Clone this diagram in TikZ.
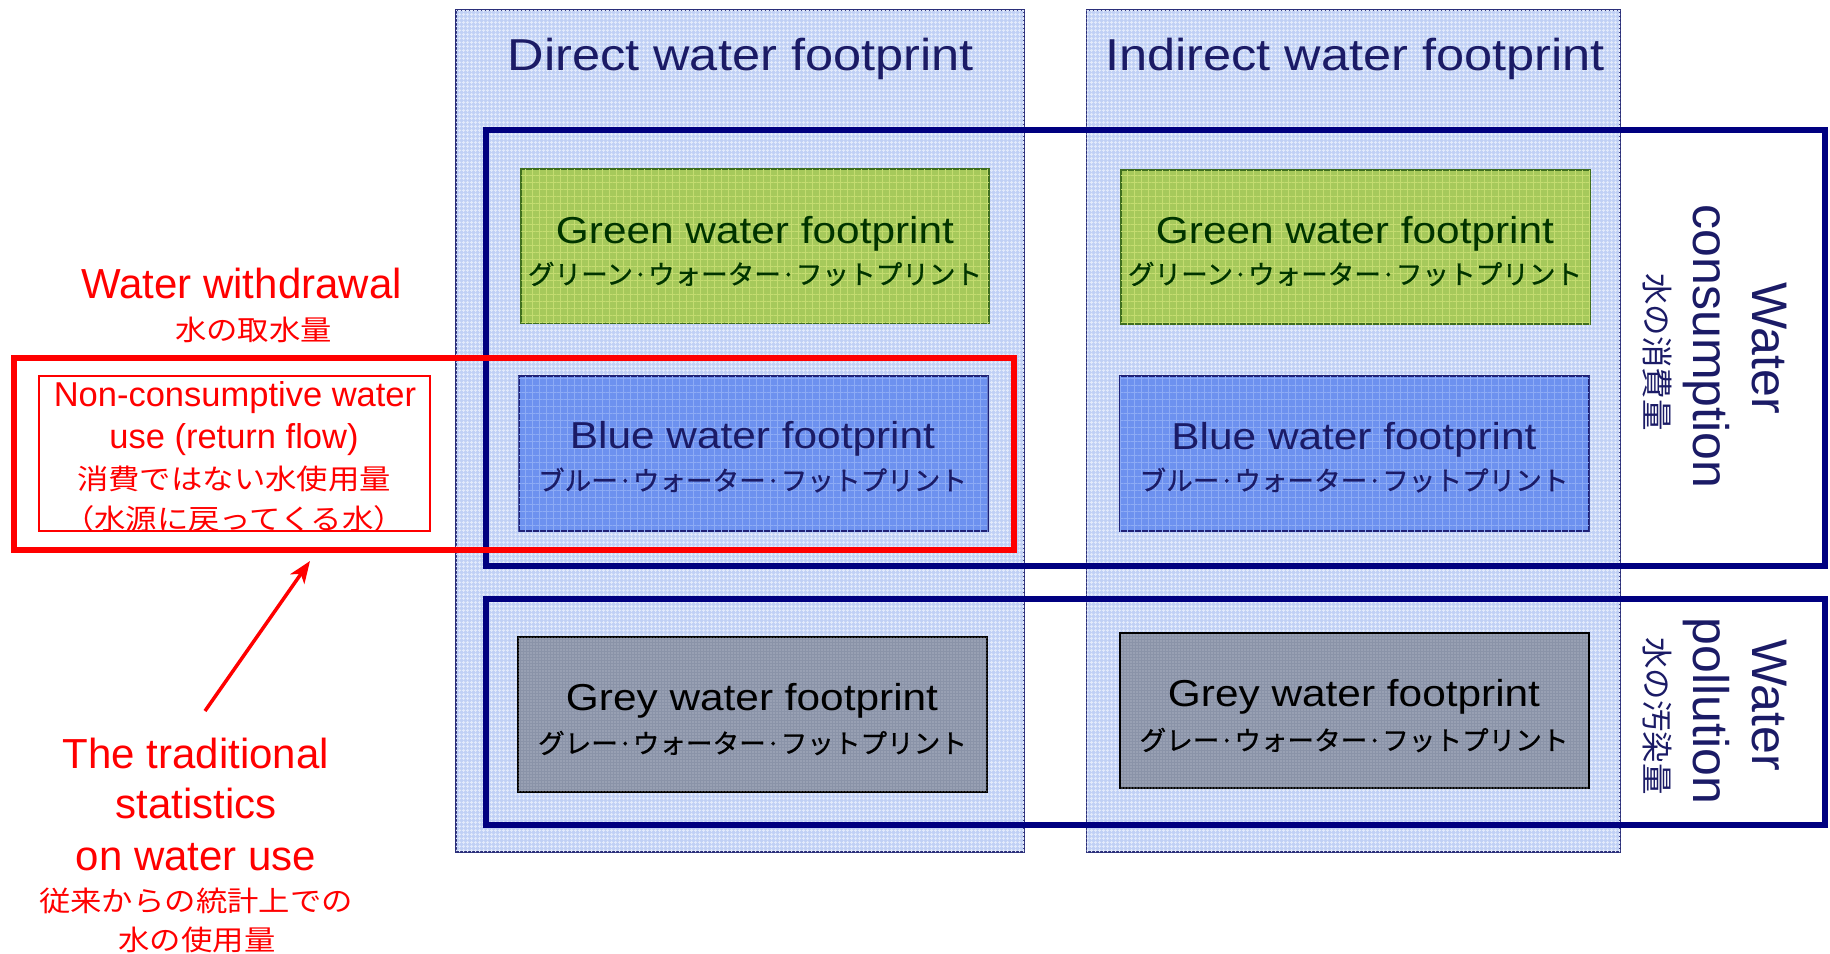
\documentclass[tikz,border=0pt]{standalone}
\usepackage{fontspec}
\setmainfont{Liberation Sans}
\newfontfamily\enw{Liberation Sans}[FakeStretch=1.13]
\newfontfamily\jp{Noto Sans CJK JP}
\newfontfamily\jpb{Noto Sans CJK JP}[FakeBold=0.8]
\newfontfamily\jpw{Noto Sans CJK JP}[FakeStretch=1.12]
\usetikzlibrary{arrows.meta,patterns.meta}

\definecolor{colbg}{HTML}{C0D0F5}
\definecolor{colhatch}{HTML}{E2EAFB}
\definecolor{colline}{HTML}{2B2F7A}
\definecolor{navy}{HTML}{000080}
\definecolor{navytext}{HTML}{1B1B66}
\definecolor{grfill}{HTML}{A6C95B}
\definecolor{grhatch}{HTML}{C4DC70}
\definecolor{grline}{HTML}{3F6F1F}
\definecolor{grtext}{HTML}{003300}
\definecolor{blfill}{HTML}{6D91EF}
\definecolor{blhatch}{HTML}{8DABF5}
\definecolor{blline}{HTML}{1F2277}
\definecolor{gyfill}{HTML}{8A93A8}
\definecolor{gydots}{HTML}{C9CED8}
\definecolor{wred}{HTML}{FF0000}

\begin{document}
\begin{tikzpicture}[x=1pt,y=-1pt,
  every node/.style={inner sep=0pt,outer sep=0pt},
  column/.style={rectangle,draw=colline,line width=1.6pt,fill=colbg,
    postaction={pattern={Hatch[distance=4pt,line width=1.1pt]},pattern color=colhatch}},
  framebox/.style={rectangle,draw=navy,line width=6pt},
  greenfp/.style={rectangle,draw=grline,line width=2pt,fill=grfill,
    postaction={pattern={Hatch[distance=7pt,line width=1pt]},pattern color=grhatch}},
  bluefp/.style={rectangle,draw=blline,line width=2pt,fill=blfill,
    postaction={pattern={Hatch[distance=7pt,line width=1pt]},pattern color=blhatch}},
  greyfp/.style={rectangle,draw=black,line width=2pt,fill=gyfill,
    postaction={pattern={Dots[distance=3pt,radius=0.7pt]},pattern color=gydots}},
  redframe/.style={rectangle,draw=wred,line width=6pt},
  redthin/.style={rectangle,draw=wred,line width=1.8pt},
  coltitle/.style={anchor=base,text=navytext,font=\enw\fontsize{44.7}{48}\selectfont},
  fpen/.style={anchor=base,font=\enw\fontsize{37.5}{40}\selectfont},
  fpjp/.style={anchor=center,font=\jpb\fontsize{26.6}{30}\selectfont},
  sideen/.style={anchor=base,rotate=-90,text=navytext,font=\fontsize{50}{54}\selectfont},
  sidejp/.style={anchor=center,rotate=-90,text=navytext,font=\jp\fontsize{31.5}{34}\selectfont},
  reden/.style={anchor=base,text=wred,font=\fontsize{42}{46}\selectfont},
  redensmall/.style={anchor=base,text=wred,font=\fontsize{34.5}{38}\selectfont},
  redjp/.style={anchor=center,text=wred,font=\jpw\fontsize{28}{31}\selectfont},
  redarrow/.style={draw=wred,line width=3.5pt,-{Stealth[length=22pt,width=17pt,inset=6pt]}}
]
\useasboundingbox (0,0) rectangle (1830,953);

% the two footprint columns
\node[column,minimum width=568,minimum height=842] (dcol) at (740,431) {};
\node[column,minimum width=533.5,minimum height=842] (icol) at (1353.25,431) {};

% consumption and pollution frames
\node[framebox,minimum width=1339,minimum height=436] (cons) at (1155,347.5) {};
\node[framebox,minimum width=1339,minimum height=226] (poll) at (1155,711.5) {};

% footprint boxes
\node[greenfp,minimum width=468,minimum height=154] (gdir) at (755,246) {};
\node[bluefp,minimum width=469,minimum height=155] (bdir) at (753,453.5) {};
\node[greyfp,minimum width=469,minimum height=155] (ydir) at (752.5,714.2) {};
\node[greenfp,minimum width=469,minimum height=154] (gind) at (1355.5,247.2) {};
\node[bluefp,minimum width=469,minimum height=155] (bind) at (1354.5,453.5) {};
\node[greyfp,minimum width=469,minimum height=155] (yind) at (1354.7,710.8) {};

% withdrawal frame and return-flow box
\node[redframe,minimum width=1000,minimum height=192] (wdr) at (514,454) {};
\node[redthin,minimum width=390.7,minimum height=155] (ret) at (234.65,453.5) {};

% column titles
\node[coltitle] (dtitle) at (740.6,70) {Direct water footprint};
\node[coltitle] (ititle) at (1355,70) {Indirect water footprint};

% box labels
\node[fpen,text=grtext] (gdirA) at (755,243.3) {Green water footprint};
\node[fpjp,text=grtext] (gdirB) at (755,274) {グリーン·ウォーター·フットプリント};
\node[fpen,text=navytext] (bdirA) at (752.5,448.3) {Blue water footprint};
\node[fpjp,text=navytext] (bdirB) at (752.5,480) {ブルー·ウォーター·フットプリント};
\node[fpen,text=black] (ydirA) at (752,710) {Grey water footprint};
\node[fpjp,text=black] (ydirB) at (752.5,743) {グレー·ウォーター·フットプリント};

\node[fpen,text=grtext] (gindA) at (1355,243.3) {Green water footprint};
\node[fpjp,text=grtext] (gindB) at (1355,274) {グリーン·ウォーター·フットプリント};
\node[fpen,text=navytext] (bindA) at (1354,449) {Blue water footprint};
\node[fpjp,text=navytext] (bindB) at (1354,480) {ブルー·ウォーター·フットプリント};
\node[fpen,text=black] (yindA) at (1354,706.7) {Grey water footprint};
\node[fpjp,text=black] (yindB) at (1354,740) {グレー·ウォーター·フットプリント};

% side labels
\node[sideen] (consA) at (1752,348) {Water};
\node[sideen] (consB) at (1693,346.5) {consumption};
\node[sidejp] (consC) at (1657.5,352) {水の消費量};
\node[sideen] (pollA) at (1752,705) {Water};
\node[sideen] (pollB) at (1693,711) {pollution};
\node[sidejp] (pollC) at (1657.5,716) {水の汚染量};

% withdrawal labels
\node[reden] (wdrA) at (241.5,298.3) {Water withdrawal};
\node[redjp] (wdrB) at (253.5,329.5) {水の取水量};
\node[redensmall] (retA) at (235,406.7) {Non-consumptive water};
\node[redensmall] (retB) at (234,448.3) {use (return flow)};
\node[redjp] (retC) at (234,479) {消費ではない水使用量};
\node[redjp] (retD) at (234,519) {（水源に戻ってくる水）};

% traditional statistics note
\node[reden] (tradA) at (196,768.3) {The traditional};
\node[reden] (tradB) at (196,818.3) {statistics};
\node[reden] (tradC) at (196,870) {on water use};
\node[redjp] (tradD) at (196,900.5) {従来からの統計上での};
\node[redjp] (tradE) at (197,940) {水の使用量};

\coordinate (atail) at (205,711);
\coordinate (atip) at (310,561);
\draw[redarrow] (atail) -- (atip);
\end{tikzpicture}
\end{document}
